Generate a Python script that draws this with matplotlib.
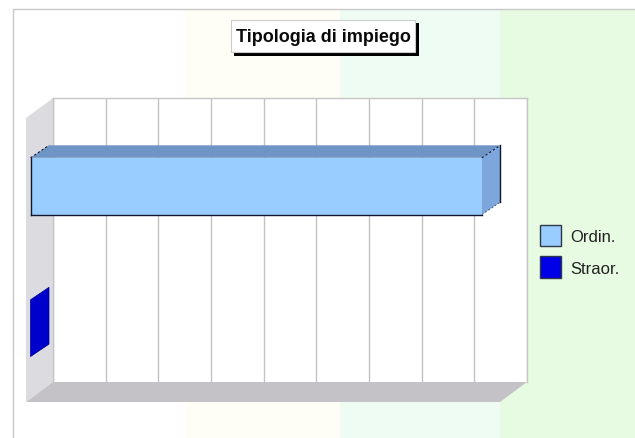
import matplotlib
matplotlib.use("Agg")
import matplotlib.pyplot as plt
from matplotlib.patches import Polygon, Rectangle, Patch
from matplotlib.lines import Line2D
from matplotlib.transforms import Affine2D, IdentityTransform

categories = ["Ordin.", "Straor."]
values = [8.57, 0.0]
face_colors = ["#99ccff", "#0000d8"]
side_colors = ["#7ca6dc", "#0000cc"]
top_colors = ["#6f94c6", "#0000c0"]
edge_colors = ["#101830", "#00008a"]
x_ticks = list(range(0, 10))
title_text = "Tipologia di impiego"

W, H = 635, 439
plt.rcParams["font.family"] = ["Liberation Sans", "DejaVu Sans"]
fig = plt.figure(figsize=(W / 100, H / 100), dpi=100)

# background bands
bg = fig.add_axes([0, 0, 1, 1], zorder=0)
bg.set_xlim(0, W); bg.set_ylim(H, 0); bg.axis("off")
bg.add_patch(Rectangle((0, 0), W, H, fc="white", ec="none"))
bg.add_patch(Rectangle((185, 10), 155, H, fc="#fffef6", ec="none"))
bg.add_patch(Rectangle((340, 10), 160, H, fc="#effcf4", ec="none"))
bg.add_patch(Rectangle((500, 10), 135, H, fc="#e6fbe1", ec="none"))
bg.plot([12.5, 12.5, W], [H, 9.5, 9.5], color="#c8c8c8", lw=1)
# side wall and floor
bg.add_patch(Polygon([(26, 403), (53, 383), (53, 99), (26, 119)], closed=True, fc="#dcdbe0", ec="none"))
bg.add_patch(Polygon([(26, 403), (53, 383), (527, 383), (500, 403)], closed=True, fc="#c4c2c6", ec="none"))

# back wall: data axes
ax = fig.add_axes([53 / W, 1 - 383 / H, (527 - 53) / W, (383 - 99) / H], zorder=1)
ax.set_xlim(0, 9)
ax.set_ylim(1.5, -0.5)
ax.set_facecolor("white")
for name, s in ax.spines.items():
    s.set_color("#c6c6c6")
    s.set_linewidth(1)
    s.set_visible(name != "bottom")
ax.set_xticks(x_ticks)
ax.set_yticks([])
ax.tick_params(length=0, labelbottom=False)
ax.grid(axis="x", color="#c3c3c3", lw=1)
ax.set_axisbelow(True)


def shift(dx, dy):
    return ax.transData + Affine2D().translate(dx, dy)


bar_h = 0.40
FX, FY = -22.5, -17.2   # front face offset in px (right, up)
DX, DY = 18.5, 12.5     # bar depth
px = IdentityTransform()


def seg(a, b, color, lw=1.0, ls="-"):
    ax.add_line(Line2D([a[0], b[0]], [a[1], b[1]], transform=px, color=color, lw=lw, ls=ls,
                       clip_on=False, zorder=5))


for i, (v, fc, sc, tc, ec) in enumerate(zip(values, face_colors, side_colors, top_colors, edge_colors)):
    y0, y1 = i - bar_h / 2, i + bar_h / 2
    tf = shift(FX, FY)
    tb = shift(FX + DX, FY + DY)
    p = lambda t, x, y: t.transform((x, y))
    top = [p(tf, 0, y0), p(tf, v, y0), p(tb, v, y0), p(tb, 0, y0)]
    side = [p(tf, v, y0), p(tf, v, y1), p(tb, v, y1), p(tb, v, y0)]
    if v > 0:
        ax.add_patch(Polygon(top, closed=True, transform=px, fc=tc, ec="none", clip_on=False, zorder=3))
    ax.add_patch(Polygon(side, closed=True, transform=px, fc=sc, ec="none", clip_on=False, zorder=3))
    if v > 0:
        ax.add_patch(Rectangle((0, y0), v, y1 - y0, transform=tf, fc=fc, ec="none", clip_on=False, zorder=4))
        # outline: left and bottom of the face, outer back edge, dotted depth edges
        seg(p(tf, 0, y0), p(tf, 0, y1), ec)
        seg(p(tf, 0, y1), p(tf, v, y1), ec)
        seg(p(tb, v, y0), p(tb, v, y1), ec)
        seg(p(tf, 0, y0), p(tb, 0, y0), ec, 0.8, (0, (2, 2)))
        seg(p(tf, v, y0), p(tb, v, y0), ec, 0.8, (0, (2, 2)))
        seg(p(tf, v, y1), p(tb, v, y1), "#4a5a78", 0.7, (0, (2, 2)))
    else:
        ax.add_patch(Polygon(side, closed=True, transform=px, fc="none", ec=ec, lw=0.5, clip_on=False, zorder=4))

# title box
fig.add_artist(Rectangle((234 / W, 1 - 57 / H), 185 / W, 33 / H, transform=fig.transFigure, fc="black", ec="none", zorder=5))
fig.add_artist(Rectangle((230.5 / W, 1 - 53 / H), 184 / W, 32 / H, transform=fig.transFigure, fc="white", ec="#cccccc", lw=0.8, zorder=6))
fig.text(323 / W, 1 - 37 / H, title_text, ha="center", va="center", fontsize=13, fontweight="bold", color="#0a0a0a", zorder=7)

# legend
handles = [Patch(fc=face_colors[0], ec="#303848", lw=1), Patch(fc="#0000e8", ec="#303848", lw=1)]
fig.legend(handles, categories, loc="upper left", bbox_to_anchor=(540 / W, 1 - 225.5 / H), frameon=False,
           fontsize=12, handlelength=1.26, handleheight=1.61, handletextpad=0.55, labelspacing=0.62,
           borderpad=0, borderaxespad=0, labelcolor="#222222")

fig.savefig("out.png", dpi=100)
